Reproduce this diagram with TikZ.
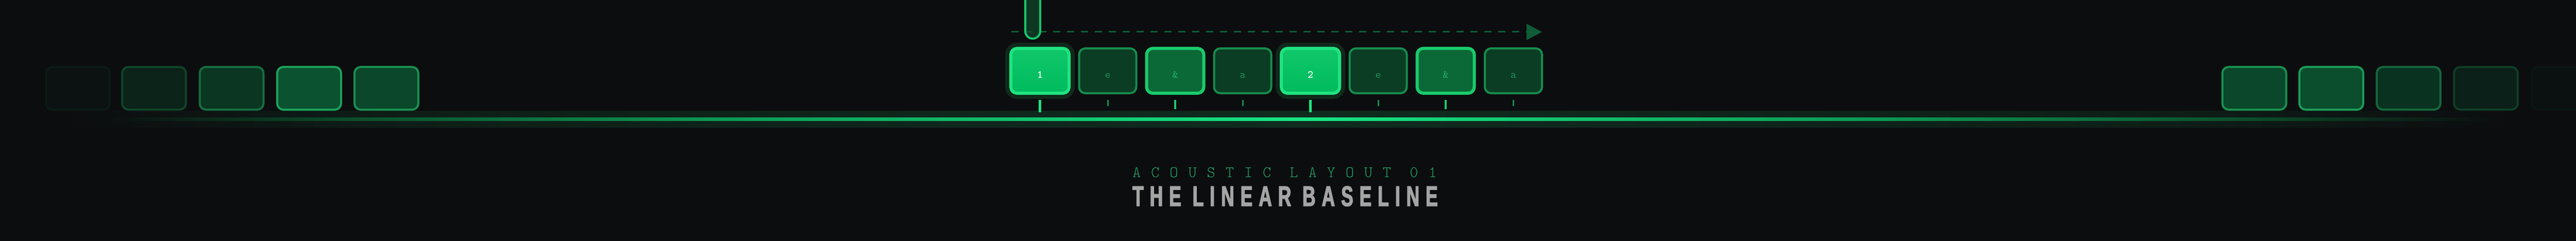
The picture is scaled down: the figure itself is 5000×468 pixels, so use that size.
\documentclass[tikz,border=0pt]{standalone}
\usepackage{fontspec}
\usetikzlibrary{arrows.meta}

\newfontfamily\padfont{lmmonolt10-regular.otf}
\newfontfamily\beatfont{lmmonolt10-bold.otf}
\newfontfamily\kickerfont{lmmonolt10-regular.otf}[LetterSpace=64]
\newfontfamily\titlefont{Liberation Sans Bold}[FakeStretch=0.64, FakeBold=2.5, LetterSpace=22]

\definecolor{bg}{HTML}{0C0D0F}
\definecolor{neon}{HTML}{1EE480}
\definecolor{neontop}{HTML}{10C86A}
\definecolor{neonbot}{HTML}{00BA5E}
\definecolor{halo}{HTML}{10291C}
\definecolor{padline}{HTML}{168C4E}
\definecolor{padfill}{HTML}{0B3D24}
\definecolor{padtext}{HTML}{28A866}
\definecolor{accline}{HTML}{19CC6C}
\definecolor{accfill}{HTML}{0B6837}
\definecolor{acctext}{HTML}{2CCB77}
\definecolor{sideline}{HTML}{1CA05A}
\definecolor{sidefill}{HTML}{0A5230}
\definecolor{sweep}{HTML}{0F5C37}
\definecolor{capline}{HTML}{19C46A}
\definecolor{capfill}{HTML}{0E4A2C}
\definecolor{kicker}{HTML}{22A062}
\definecolor{titlegray}{HTML}{A4A4A4}
\definecolor{linedim}{HTML}{0B4A2A}
\definecolor{linemid}{HTML}{0C9A54}
\definecolor{linehot}{HTML}{16E684}
\definecolor{glowdim}{HTML}{0E1E17}
\definecolor{glowhot}{HTML}{0F2C1F}

\pgfdeclarehorizontalshading{baselinefade}{100bp}{color(0bp)=(bg); color(25bp)=(bg);
  color(30bp)=(linedim); color(38bp)=(linemid); color(50bp)=(linehot); color(62bp)=(linemid);
  color(70bp)=(linedim); color(75bp)=(bg); color(100bp)=(bg)}
\pgfdeclarehorizontalshading{glowfade}{100bp}{color(0bp)=(bg); color(25bp)=(bg);
  color(32bp)=(glowdim); color(50bp)=(glowhot); color(68bp)=(glowdim); color(75bp)=(bg); color(100bp)=(bg)}

\begin{document}
\begin{tikzpicture}[x=1pt, y=-1pt,
  pad/.style={draw=padline, fill=padfill, line width=4pt, rounded corners=12pt,
    minimum width=111pt, minimum height=87pt, inner sep=0pt,
    text height=27pt, text depth=0pt, text=padtext, font=\padfont\fontsize{21}{21}\selectfont},
  accentpad/.style={pad, draw=accline, fill=accfill, line width=6pt, text=acctext},
  beatpad/.style={pad, draw=neon, top color=neontop, bottom color=neonbot, line width=6pt,
    minimum width=113pt, text=white, font=\beatfont\fontsize{21}{21}\selectfont,
    preaction={draw=halo, line width=22pt}},
  sidepad/.style={draw=sideline, fill=sidefill, line width=4pt, rounded corners=12pt,
    minimum width=124pt, minimum height=83pt, inner sep=0pt, opacity=#1},
  beattick/.style={neon, line width=5pt},
  andtick/.style={accline, line width=4pt},
  subtick/.style={padline, line width=3pt},
  sweepline/.style={sweep, line width=3pt, dash pattern=on 14pt off 13pt, -{Triangle[length=30pt, width=31pt]}},
  playhead/.style={draw=capline, fill=capfill, fill opacity=0.7, line width=4pt, rounded corners=14.5pt}]

  \useasboundingbox (0,0) rectangle (5000,468);
  \fill[bg] (0,0) rectangle (5000,468);

  % baseline with its glow
  \fill[shading=glowfade] (120,215) rectangle (4880,247);
  \fill[shading=baselinefade] (190,228) rectangle (4850,234);

  % fading pads on both sides
  \node[sidepad=0.08] (ghostl1) at (151,171.5) {};
  \node[sidepad=0.32] (ghostl2) at (299,171.5) {};
  \node[sidepad=0.6] (ghostl3) at (449.5,171.5) {};
  \node[sidepad=1] (ghostl4) at (600,171.5) {};
  \node[sidepad=0.85] (ghostl5) at (750,171.5) {};
  \node[sidepad=0.85] (ghostr1) at (4375.5,171.5) {};
  \node[sidepad=0.95] (ghostr2) at (4525,171.5) {};
  \node[sidepad=0.55] (ghostr3) at (4675,171.5) {};
  \node[sidepad=0.28] (ghostr4) at (4825,171.5) {};
  \node[sidepad=0.05] (ghostr5) at (4976,171.5) {};

  % two beats of sixteenths
  \node[beatpad] (b1) at (2018.5,137.5) {1};
  \node[pad] (b1e) at (2150,137.5) {e};
  \node[accentpad] (b1and) at (2281,137.5) {\&};
  \node[pad] (b1a) at (2412,137.5) {a};
  \node[beatpad] (b2) at (2543.5,137.5) {2};
  \node[pad] (b2e) at (2675,137.5) {e};
  \node[accentpad] (b2and) at (2806,137.5) {\&};
  \node[pad] (b2a) at (2937.5,137.5) {a};

  \coordinate (tickrow) at (0,194);
  \draw[beattick] (b1.south |- tickrow) -- ++(0,24);
  \draw[subtick] (b1e.south |- tickrow) -- ++(0,12);
  \draw[andtick] (b1and.south |- tickrow) -- ++(0,18);
  \draw[subtick] (b1a.south |- tickrow) -- ++(0,12);
  \draw[beattick] (b2.south |- tickrow) -- ++(0,24);
  \draw[subtick] (b2e.south |- tickrow) -- ++(0,12);
  \draw[andtick] (b2and.south |- tickrow) -- ++(0,18);
  \draw[subtick] (b2a.south |- tickrow) -- ++(0,12);

  % sweep and playhead
  \coordinate (sweepstart) at (1963,62);
  \coordinate (sweepend) at (2993,62);
  \draw[sweepline] (sweepstart) -- (sweepend);
  \draw[playhead] (1990,-40) rectangle (2019,75);

  \node[anchor=base west, text=kicker, font=\kickerfont\fontsize{31}{31}\selectfont, inner sep=0pt]
    (kicker) at (2198,344) {ACOUSTIC LAYOUT 01};
  \node[anchor=base west, text=titlegray, font=\titlefont\fontsize{55}{55}\selectfont, inner sep=0pt]
    (title) at (2198,400) {THE LINEAR BASELINE};
\end{tikzpicture}
\end{document}
